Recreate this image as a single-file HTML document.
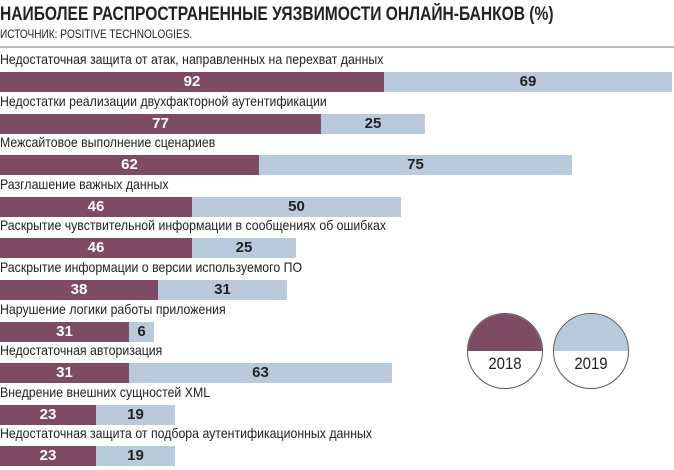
<!DOCTYPE html>
<html><head><meta charset="utf-8"><style>
body{margin:0;width:674px;height:470px;background:#fff;position:relative;overflow:hidden;font-family:"Liberation Sans",sans-serif;color:#222}
.t{position:absolute;white-space:nowrap;transform-origin:0 0}
.b{position:absolute;height:20px;font-weight:bold;font-size:15px;line-height:20px;text-align:center}
.m{background:#7d4c62;color:#fff}
.l{background:#b9cadd;color:#222}
.c{position:absolute;width:74px;height:74px;border:1.5px solid #555;border-radius:50%;overflow:hidden;background:#fff}
.c div{height:50%}
.c span{position:absolute;top:40px;width:100%;text-align:center;font-size:17px;transform:scaleX(0.88)}
</style></head><body>
<div class="t" style="left:0;top:4px;font-size:19px;font-weight:bold;color:#222;transform:scaleX(0.82)">НАИБОЛЕЕ РАСПРОСТРАНЕННЫЕ УЯЗВИМОСТИ ОНЛАЙН-БАНКОВ (%)</div>
<div class="t" style="left:0;top:27px;font-size:12px;transform:scaleX(0.84)">ИСТОЧНИК: POSITIVE TECHNOLOGIES.</div>
<div style="position:absolute;left:0;top:46px;width:674px;height:2px;background:#bbb"></div>
<div id="rows"></div>
<div class="c" style="left:467px;top:313px"><div style="background:#7d4c62"></div><span>2018</span></div>
<div class="c" style="left:553px;top:313px"><div style="background:#b9cadd"></div><span>2019</span></div>
<script>
var d=[["Недостаточная защита от атак, направленных на перехват данных",92,69],
["Недостатки реализации двухфакторной аутентификации",77,25],
["Межсайтовое выполнение сценариев",62,75],
["Разглашение важных данных",46,50],
["Раскрытие чувствительной информации в сообщениях об ошибках",46,25],
["Раскрытие информации о версии используемого ПО",38,31],
["Нарушение логики работы приложения",31,6],
["Недостаточная авторизация",31,63],
["Внедрение внешних сущностей XML",23,19],
["Недостаточная защита от подбора аутентификационных данных",23,19]];
var h="",s=4.17;
d.forEach(function(r,i){var y=72+i*41.6;
h+='<div class="t" style="left:0;top:'+(y-21)+'px;font-size:14px;transform:scaleX(0.88)">'+r[0]+'</div>';
var w1=Math.round(r[1]*s),w2=Math.round(r[2]*s);
h+='<div class="b m" style="left:0;top:'+y+'px;width:'+w1+'px">'+r[1]+'</div>';
h+='<div class="b l" style="left:'+w1+'px;top:'+y+'px;width:'+w2+'px">'+r[2]+'</div>';});
document.getElementById("rows").innerHTML=h;
</script>
</body></html>
